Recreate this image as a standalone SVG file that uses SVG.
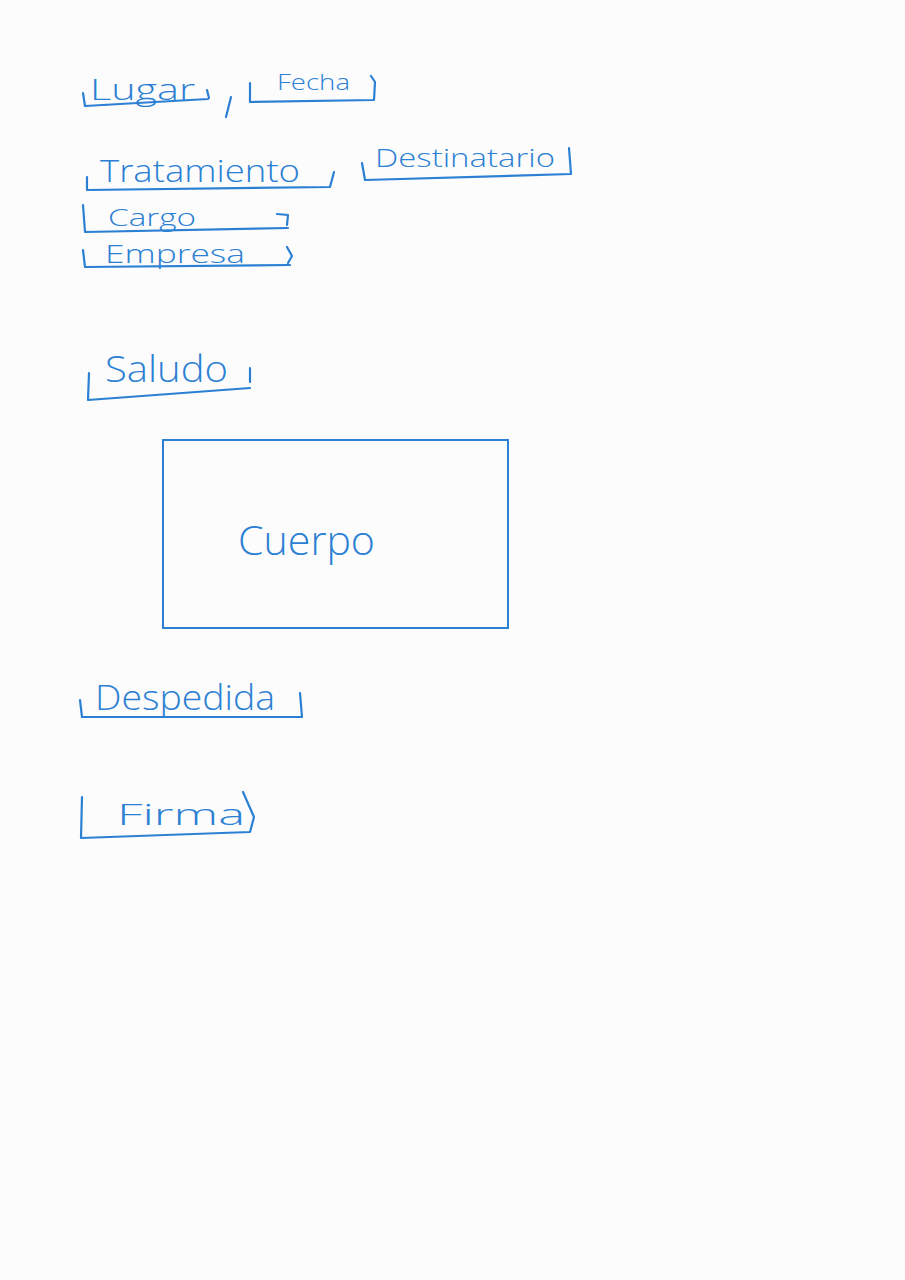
<svg xmlns="http://www.w3.org/2000/svg" width="905" height="1280" viewBox="0 0 905 1280">
<style>
.t{font-family:"Open Sans","Liberation Sans","DejaVu Sans",sans-serif;font-weight:300;fill:#2b80d4;}
.b{fill:none;stroke:#2b80d4;stroke-width:2.2;stroke-linecap:round;stroke-linejoin:round;}
</style>
<rect x="0" y="0" width="905" height="1280" fill="#fcfcfc"/>
<g id="lugar">
<text class="t" x="90" y="100" font-size="30" textLength="105" lengthAdjust="spacingAndGlyphs">Lugar</text>
<path class="b" d="M83,93 L85,106 L208,99 M207,90 L209,98"/>
<path class="b" d="M231,97 L226,117"/>
</g>
<g id="fecha">
<text class="t" x="277" y="90" font-size="22" textLength="73" lengthAdjust="spacingAndGlyphs">Fecha</text>
<path class="b" d="M250,83 L250,102 L374,100 M371,76 L375,82 L374,100"/>
</g>
<g id="tratamiento">
<text class="t" x="100" y="182" font-size="32" textLength="200" lengthAdjust="spacingAndGlyphs">Tratamiento</text>
<path class="b" d="M87,177 L87,190 L330,187 L334,172"/>
</g>
<g id="destinatario">
<text class="t" x="375" y="167" font-size="26" textLength="180" lengthAdjust="spacingAndGlyphs">Destinatario</text>
<path class="b" d="M362,163 L365,180 L571,174 L569,148"/>
</g>
<g id="cargo">
<text class="t" x="108" y="226" font-size="24" textLength="88" lengthAdjust="spacingAndGlyphs">Cargo</text>
<path class="b" d="M83,205 L85,232 L288,228 M277,214 L288,215 L287,225"/>
</g>
<g id="empresa">
<text class="t" x="105" y="263" font-size="25" textLength="140" lengthAdjust="spacingAndGlyphs">Empresa</text>
<path class="b" d="M83,250 L85,267 L290,265 M287,247 L292,256 L288,263"/>
</g>
<g id="saludo">
<text class="t" x="105" y="382" font-size="36" textLength="123" lengthAdjust="spacingAndGlyphs">Saludo</text>
<path class="b" d="M89,373 L88,400 L250,388 M250,368 L250,382"/>
</g>
<g id="cuerpo">
<rect x="163" y="440" width="345" height="188" fill="none" stroke="#2b80d4" stroke-width="2"/>
<text class="t" x="238" y="555" font-size="40" textLength="137" lengthAdjust="spacingAndGlyphs">Cuerpo</text>
</g>
<g id="despedida">
<text class="t" x="95" y="710" font-size="34" textLength="180" lengthAdjust="spacingAndGlyphs">Despedida</text>
<path class="b" d="M80,700 L82,717 L301,717 M300,693 L302,717"/>
</g>
<g id="firma">
<text class="t" x="117" y="825" font-size="30" textLength="128" lengthAdjust="spacingAndGlyphs">Firma</text>
<path class="b" d="M82,797 L81,838 L250,832 L254,817 L243,792"/>
</g>
<g id="connectors"></g>
</svg>
